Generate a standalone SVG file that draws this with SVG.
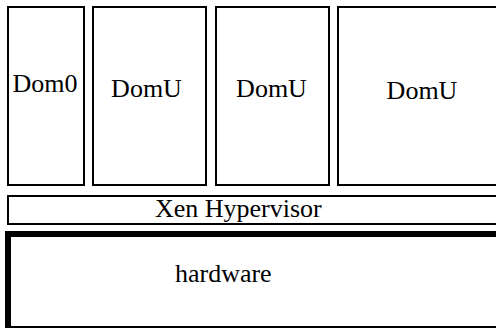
<svg xmlns="http://www.w3.org/2000/svg" width="496" height="328" viewBox="0 0 496 328">
<style>
.box{fill:#fff;stroke:#000;stroke-width:2}
.thick{fill:#fff;stroke:#000;stroke-width:6}
.t{font-family:"Liberation Serif","Times New Roman",serif;font-size:26px;fill:#000;text-anchor:middle}
</style>
<rect width="496" height="328" fill="#fff"/>
<g id="dom0"><rect class="box" x="8" y="7" width="76" height="178"/><text class="t" x="45" y="92.3">Dom0</text></g>
<g id="domu1"><rect class="box" x="93" y="7" width="113" height="178"/><text class="t" x="146.5" y="96.5">DomU</text></g>
<g id="domu2"><rect class="box" x="216" y="7" width="113" height="178"/><text class="t" x="271.5" y="96.5">DomU</text></g>
<g id="domu3"><rect class="box" x="338" y="7" width="170" height="178"/><text class="t" x="422" y="98.5">DomU</text></g>
<g id="hypervisor"><rect class="box" x="8" y="196" width="500" height="28"/><text class="t" x="238.3" y="216.7">Xen Hypervisor</text></g>
<g id="hardware"><rect class="thick" x="8" y="234" width="500" height="95"/><text class="t" x="223.3" y="281.7">hardware</text></g>
<g id="connectors"></g>
</svg>
